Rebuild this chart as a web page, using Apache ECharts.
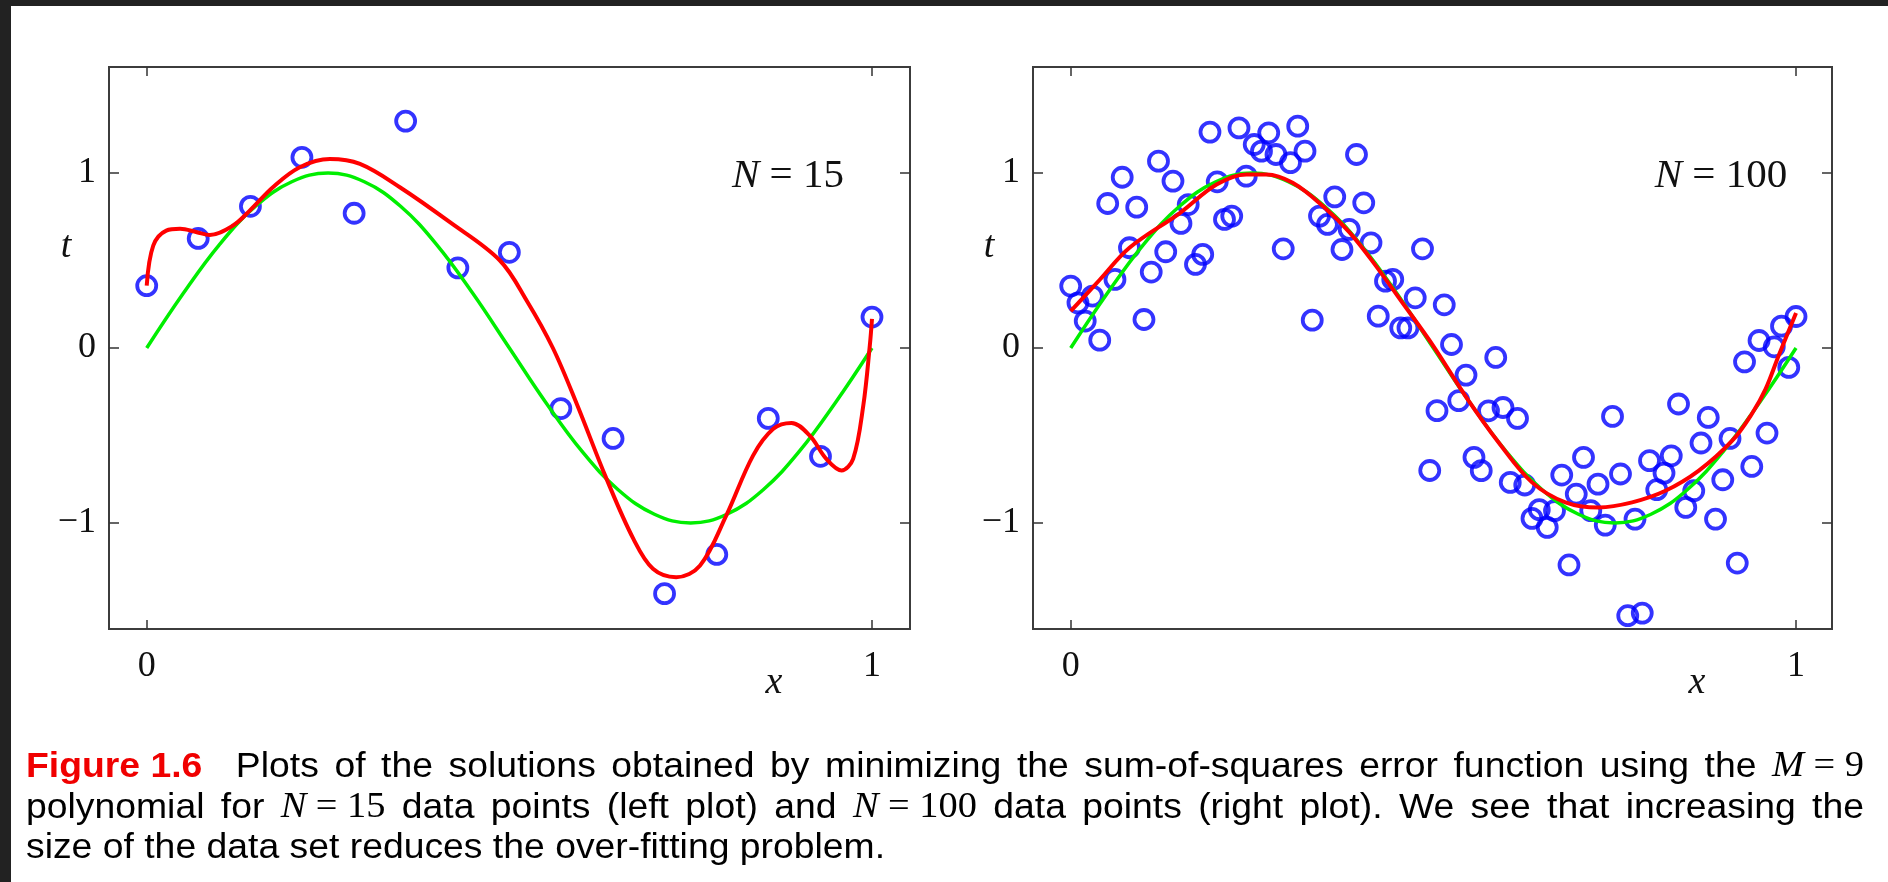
<!DOCTYPE html>
<html>
<head>
<meta charset="utf-8">
<title>Figure 1.6</title>
<script src="https://cdn.jsdelivr.net/npm/echarts@6/dist/echarts.min.js"></script>
<style>
  html, body { margin: 0; padding: 0; background: #fff; }
  #main { width: 1888px; height: 882px; }
</style>
</head>
<body>
<div id="main"></div>
<script>
// tick positions
const xTicks = [0, 1];
const yTicks = [-1, 0, 1];

// N = 15 data points (left plot)
const leftX = [0, 0.071, 0.143, 0.214, 0.286, 0.357, 0.429, 0.5, 0.571, 0.643, 0.714, 0.786, 0.857, 0.929, 1];
const leftT = [0.356, 0.626, 0.81, 1.09, 0.77, 1.297, 0.458, 0.547, -0.346, -0.517, -1.404, -1.18, -0.402, -0.619, 0.177];

// M = 9 fit through the 15 points (red, left)
const fitLX = [0, 0.009, 0.027, 0.046, 0.069, 0.087, 0.119, 0.142, 0.174, 0.211, 0.2525, 0.294, 0.349, 0.418, 0.487,
  0.524, 0.56, 0.593, 0.634, 0.671, 0.698, 0.73, 0.763, 0.799, 0.836, 0.864, 0.889, 0.914, 0.937,
  0.958, 0.974, 0.988, 0.997, 1];
const fitLT = [0.357, 0.585, 0.671, 0.681, 0.662, 0.646, 0.7, 0.785, 0.919, 1.033, 1.08, 1.052, 0.919, 0.719, 0.5,
  0.27, 0.0, -0.32, -0.748, -1.091, -1.262, -1.31, -1.243, -0.958, -0.615, -0.462, -0.428, -0.5, -0.634,
  -0.7, -0.634, -0.329, 0.014, 0.166];

// N = 100 data points (right plot)
const rightX = [0, 0.010, 0.020, 0.030, 0.040, 0.051, 0.061, 0.071, 0.081, 0.091,
  0.101, 0.111, 0.121, 0.131, 0.141, 0.152, 0.162, 0.172, 0.182, 0.192,
  0.202, 0.212, 0.222, 0.232, 0.242, 0.253, 0.263, 0.273, 0.283, 0.293,
  0.303, 0.313, 0.323, 0.333, 0.343, 0.354, 0.364, 0.374, 0.384, 0.394,
  0.404, 0.414, 0.424, 0.434, 0.444, 0.455, 0.465, 0.475, 0.485, 0.495,
  0.505, 0.515, 0.525, 0.535, 0.545, 0.556, 0.566, 0.576, 0.586, 0.596,
  0.606, 0.616, 0.626, 0.636, 0.646, 0.657, 0.667, 0.677, 0.687, 0.697,
  0.707, 0.717, 0.727, 0.737, 0.747, 0.758, 0.768, 0.778, 0.788, 0.798,
  0.808, 0.818, 0.828, 0.838, 0.848, 0.859, 0.869, 0.879, 0.889, 0.899,
  0.909, 0.919, 0.929, 0.939, 0.949, 0.960, 0.970, 0.980, 0.990, 1];
const rightT = [0.354, 0.258, 0.154, 0.297, 0.045, 0.826, 0.392, 0.976, 0.573, 0.805,
  0.163, 0.434, 1.068, 0.55, 0.954, 0.712, 0.82, 0.478, 0.535, 1.234,
  0.95, 0.735, 0.754, 1.258, 0.982, 1.163, 1.125, 1.23, 1.106, 0.567,
  1.059, 1.268, 1.125, 0.159, 0.754, 0.706, 0.864, 0.563, 0.678, 1.106,
  0.83, 0.601, 0.182, 0.382, 0.392, 0.115, 0.115, 0.287, 0.567, -0.7,
  -0.358, 0.247, 0.02, -0.301, -0.155, -0.625, -0.701, -0.359, -0.054, -0.34,
  -0.768, -0.402, -0.783, -0.974, -0.924, -1.025, -0.93, -0.726, -1.24, -0.835,
  -0.625, -0.93, -0.778, -1.012, -0.391, -0.72, -1.53, -0.978, -1.515, -0.644,
  -0.81, -0.715, -0.616, -0.32, -0.911, -0.816, -0.543, -0.397, -0.978, -0.753,
  -0.517, -1.229, -0.079, -0.677, 0.043, -0.486, 0.007, 0.125, -0.111, 0.18];

// M = 9 fit through the 100 points (red, right)
const fitRX = [0, 0.04, 0.081, 0.15, 0.201, 0.242, 0.27, 0.306, 0.348, 0.385, 0.421, 0.454, 0.5,
  0.544, 0.59, 0.636, 0.682, 0.728, 0.774, 0.82, 0.866, 0.912, 0.939, 0.958, 0.976, 1];
const fitRT = [0.211, 0.39, 0.573, 0.77, 0.934, 0.992, 0.992, 0.944, 0.81, 0.658, 0.468, 0.278, 0.011,
  -0.273, -0.54, -0.768, -0.882, -0.911, -0.882, -0.816, -0.701, -0.53, -0.377, -0.235, -0.044, 0.2];

// underlying curve (green), same in both plots
const sineX = [0, 0.05, 0.1, 0.15, 0.2, 0.25, 0.3, 0.35, 0.4, 0.45, 0.5,
  0.55, 0.6, 0.65, 0.7, 0.75, 0.8, 0.85, 0.9, 0.95, 1];
const sineT = [0, 0.31, 0.59, 0.81, 0.95, 1, 0.95, 0.81, 0.59, 0.31, 0,
  -0.31, -0.59, -0.81, -0.95, -1, -0.95, -0.81, -0.59, -0.31, 0];

const serif = '"Liberation Serif", "DejaVu Serif", serif';
const sans = '"Liberation Sans", Arial, sans-serif';

function pairs(xs, ys) {
  return xs.map((x, i) => [x, ys[i]]);
}

const panels = [
  { left: 109, width: 801, xMin: -0.052, xMax: 1.0524, pts: pairs(leftX, leftT), fit: pairs(fitLX, fitLT),
    n: '15', nx: 788, tx: 66, xx: 774 },
  { left: 1033, width: 799, xMin: -0.052, xMax: 1.0496, pts: pairs(rightX, rightT), fit: pairs(fitRX, fitRT),
    n: '100', nx: 1721, tx: 989, xx: 1697 }
];

const tickLine = { color: '#333', width: 1.5 };
const grid = [], xAxis = [], yAxis = [], series = [], graphic = [];

panels.forEach((p, k) => {
  grid.push({
    left: p.left, top: 67, width: p.width, height: 562,
    show: true, borderColor: '#3c3c3c', borderWidth: 2, backgroundColor: '#fff'
  });
  ['bottom', 'top'].forEach(pos => {
    xAxis.push({
      type: 'value', gridIndex: k, position: pos, min: p.xMin, max: p.xMax,
      axisLine: { show: false, onZero: false }, splitLine: { show: false },
      axisTick: { inside: true, length: 9, customValues: xTicks, lineStyle: tickLine },
      axisLabel: {
        show: pos === 'bottom', customValues: xTicks, margin: 20,
        fontFamily: serif, fontSize: 36, color: '#111'
      }
    });
  });
  ['left', 'right'].forEach(pos => {
    yAxis.push({
      type: 'value', gridIndex: k, position: pos, min: -1.606, max: 1.606,
      axisLine: { show: false, onZero: false }, splitLine: { show: false },
      axisTick: { inside: true, length: 10, customValues: yTicks, lineStyle: tickLine },
      axisLabel: {
        show: pos === 'left', customValues: yTicks, margin: 13,
        fontFamily: serif, fontSize: 36, color: '#111',
        formatter: v => (v < 0 ? '\u2212' + Math.abs(v) : String(v))
      }
    });
  });

  series.push({
    type: 'scatter', xAxisIndex: 2 * k, yAxisIndex: 2 * k, silent: true,
    symbol: 'circle', symbolSize: 19,
    itemStyle: { color: 'rgba(0,0,0,0)', borderColor: '#0000ff', borderWidth: 3.8 },
    data: p.pts
  });
  series.push({
    type: 'line', xAxisIndex: 2 * k, yAxisIndex: 2 * k, silent: true,
    showSymbol: false, smooth: 0.4,
    lineStyle: { color: '#00ee00', width: 3.5 },
    data: pairs(sineX, sineT)
  });
  series.push({
    type: 'line', xAxisIndex: 2 * k, yAxisIndex: 2 * k, silent: true,
    showSymbol: false, smooth: 0.35,
    lineStyle: { color: '#ff0000', width: 4 },
    data: p.fit
  });

  // axis names and the N = ... note
  graphic.push({
    type: 'text', x: p.tx, y: 247, silent: true,
    style: { text: 't', font: 'italic 38px ' + serif, fill: '#111',
      align: 'center', verticalAlign: 'middle', textAlign: 'center', textVerticalAlign: 'middle' }
  });
  graphic.push({
    type: 'text', x: p.xx, y: 683, silent: true,
    style: { text: 'x', font: 'italic 38px ' + serif, fill: '#111',
      align: 'center', verticalAlign: 'middle', textAlign: 'center', textVerticalAlign: 'middle' }
  });
  graphic.push({
    type: 'text', x: p.nx, y: 176, silent: true,
    style: {
      text: '{n|N} = ' + p.n, fontFamily: serif, fontSize: 41, fill: '#111',
      rich: { n: { fontStyle: 'italic', fontFamily: serif, fontSize: 41, fill: '#111' } },
      align: 'center', verticalAlign: 'middle', textAlign: 'center', textVerticalAlign: 'middle'
    }
  });
});

// caption
const capStyle = {
  fig: { font: 'bold 35px ' + sans, fill: '#f00000' },
  tx: { font: '35px ' + sans, fill: '#000' },
  mi: { font: 'italic 36px ' + serif, fill: '#000' },
  mr: { font: '36px ' + serif, fill: '#000' }
};
function words(s) {
  return s.split(' ').map(w => [['tx', w]]);
}
function math(letter, rest) {
  return [['mi', letter], ['mr', rest]];
}
const captionLines = [
  [[['fig', 'Figure 1.6']]].concat(
    words('Plots of the solutions obtained by minimizing the sum-of-squares error function using the'),
    [math('M', ' = 9')]),
  words('polynomial for').concat([math('N', ' = 15')], words('data points (left plot) and'),
    [math('N', ' = 100')], words('data points (right plot). We see that increasing the')),
  words('size of the data set reduces the over-fitting problem.')
];
const capLeft = 26, capRight = 1864, capY = [767, 808, 848], lastLineRight = 885;

const ctx = document.createElement('canvas').getContext('2d');
function measure(seg) {
  ctx.font = capStyle[seg[0]].font;
  return ctx.measureText(seg[1]).width;
}
ctx.font = capStyle.tx.font;
const spaceW = ctx.measureText(' ').width;

function wordWidth(word) {
  return word.reduce((a, seg) => a + measure(seg), 0);
}
// horizontal scale taken from the unjustified last line
const last = captionLines[2];
const lastNat = last.reduce((a, w) => a + wordWidth(w), 0) + spaceW * (last.length - 1);
const sx = (lastLineRight - capLeft) / lastNat;

captionLines.forEach((line, li) => {
  const widths = line.map(w => wordWidth(w) * sx);
  const total = widths.reduce((a, b) => a + b, 0);
  const nGaps = line.length - 1;
  const extraFirst = li === 0 ? 18 : 0;
  const gap = li === 2 ? spaceW * sx : (capRight - capLeft - total - extraFirst) / nGaps;
  let x = capLeft;
  line.forEach((word, wi) => {
    let sxw = x;
    word.forEach(seg => {
      const st = capStyle[seg[0]];
      graphic.push({
        type: 'text', x: sxw, y: capY[li], scaleX: sx, silent: true,
        style: { text: seg[1], font: st.font, fill: st.fill,
          align: 'left', verticalAlign: 'middle', textAlign: 'left', textVerticalAlign: 'middle' }
      });
      sxw += measure(seg) * sx;
    });
    x += widths[wi] + gap + (wi === 0 ? extraFirst : 0);
  });
});

// dark frame of the screenshot
graphic.push({ type: 'rect', silent: true, shape: { x: 0, y: 0, width: 1888, height: 6 }, style: { fill: '#222' } });
graphic.push({ type: 'rect', silent: true, shape: { x: 0, y: 0, width: 11, height: 882 }, style: { fill: '#222' } });

const chart = echarts.init(document.getElementById('main'));
chart.setOption({
  backgroundColor: '#fff',
  animation: false,
  grid: grid,
  xAxis: xAxis,
  yAxis: yAxis,
  series: series,
  graphic: graphic
});
</script>
</body>
</html>
